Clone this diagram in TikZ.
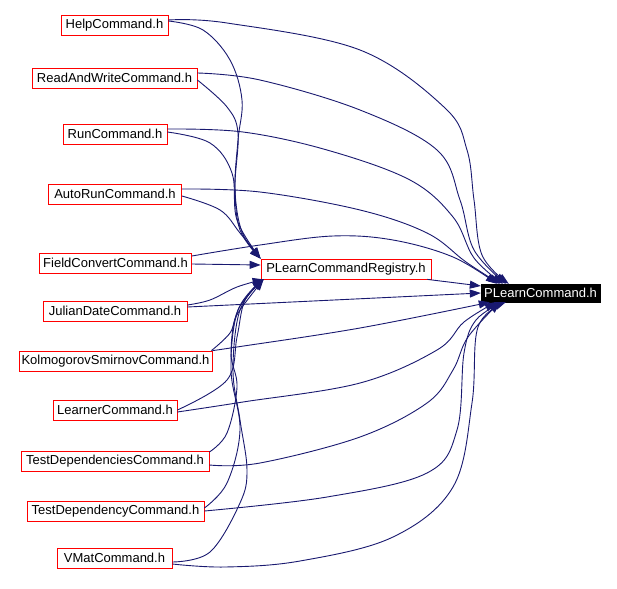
\documentclass[tikz,border=0pt]{standalone}
\usepackage{fontspec}
\setmainfont{Liberation Sans}
\usetikzlibrary{arrows.meta}
\definecolor{edgeblue}{RGB}{25,25,112}
\definecolor{boxred}{RGB}{255,0,0}
\begin{document}
\begin{tikzpicture}[x=1pt,y=-1pt,
  file/.style={draw=boxred,line width=0.8pt,fill=white,inner sep=0pt,minimum height=20pt,
    font=\fontsize{13}{14}\selectfont,anchor=center},
  mainfile/.style={draw=black,fill=black,text=white,inner sep=0pt,minimum height=18pt,
    font=\fontsize{13}{14}\selectfont,anchor=center},
  edge/.style={draw=edgeblue,line width=0.9pt,-{Triangle[length=11pt,width=8pt]}},
  curve/.style={smooth,tension=0.6}]
\useasboundingbox[fill=white] (0,0) rectangle (617,588);

\node[file,minimum width=107pt] (help) at (114.5,25) {HelpCommand.h};
\node[file,minimum width=165pt] (rw) at (114.5,78) {ReadAndWriteCommand.h};
\node[file,minimum width=104pt] (run) at (115,134) {RunCommand.h};
\node[file,minimum width=133pt] (auto) at (115,194) {AutoRunCommand.h};
\node[file,minimum width=152pt] (field) at (115.5,263) {FieldConvertCommand.h};
\node[file,minimum width=144pt] (julian) at (115,311) {JulianDateCommand.h};
\node[file,minimum width=193pt] (kolm) at (115.5,361) {KolmogorovSmirnovCommand.h};
\node[file,minimum width=124pt] (learner) at (115,410) {LearnerCommand.h};
\node[file,minimum width=188pt] (tdeps) at (115,461) {TestDependenciesCommand.h};
\node[file,minimum width=177pt] (tdep) at (115.5,511) {TestDependencyCommand.h};
\node[file,minimum width=115pt] (vmat) at (114.5,558) {VMatCommand.h};
\node[file,minimum width=170pt] (reg) at (346,269) {PLearnCommandRegistry.h};
\node[mainfile,minimum width=119pt] (plc) at (540.5,293) {PLearnCommand.h};

% upper group to PLearnCommand.h
\draw[edge] plot[curve] coordinates {([yshift=5pt]help.east) (227,23) (360,50) (445,108) (467,150) (474,200) (482,255) ([xshift=28pt]plc.north west)};
\draw[edge] plot[curve] coordinates {([yshift=5pt]rw.east) (260,80) (360,110) (437,150) (460,200) (474,250) ([xshift=25pt]plc.north west)};
\draw[edge] plot[curve] coordinates {([yshift=5pt]run.east) (243,132) (327,150) (410,180) (453,217) (474,258) ([xshift=22pt]plc.north west)};
\draw[edge] plot[curve] coordinates {([yshift=5pt]auto.east) (260,192) (360,210) (427,233) (466,262) ([xshift=19pt]plc.north west)};
\draw[edge] plot[curve] coordinates {([yshift=7pt]field.east) (260,245) (333,236) (393,240) (453,257) ([xshift=16pt]plc.north west)};

% upper group to registry
\draw[edge] plot[curve] coordinates {([yshift=4pt]help.east) (203,30) (230,60) (242,100) (238,140) (235,190) (242,232) (reg.north west)};
\draw[edge] plot[curve] coordinates {([yshift=-2pt]rw.east) (227,107) (238,133) (235,187) (240,230) (reg.north west)};
\draw[edge] plot[curve] coordinates {([yshift=2pt]run.east) (210,143) (232,173) (237,220) (reg.north west)};
\draw[edge] plot[curve] coordinates {([yshift=-2pt]auto.east) (220,210) (240,233) (reg.north west)};
\draw[edge] ([yshift=-1pt]field.east) -- ([yshift=4pt]reg.west);

% registry to PLearnCommand.h
\draw[edge] ([xshift=-4pt]reg.south east) -- ([yshift=7pt]plc.west);

% lower group to PLearnCommand.h
\draw[edge] ([yshift=4pt]julian.east) -- (plc.west);
\draw[edge] plot[curve] coordinates {(kolm.north east) (237,347) (360,328) ([xshift=9pt]plc.south west)};
\draw[edge] plot[curve] coordinates {([yshift=-2pt]learner.east) (243,402) (360,383) (437,350) (464,322) ([xshift=15pt]plc.south west)};
\draw[edge] plot[curve] coordinates {([yshift=-4pt]tdeps.east) (260,463) (360,437) (427,403) (453,370) (468,337) ([xshift=19pt]plc.south west)};
\draw[edge] plot[curve] coordinates {(tdep.east) (327,497) (427,473) (457,430) (464,353) (476,320) ([xshift=22pt]plc.south west)};
\draw[edge] plot[curve] coordinates {([yshift=-6pt]vmat.east) (225,567) (300,561) (393,537) (453,487) (472,403) (478,327) ([xshift=25pt]plc.south west)};

% lower group to registry
\draw[edge] plot[curve] coordinates {([yshift=6pt]julian.east) (210,300) (237,287) ([xshift=3pt]reg.south west)};
\draw[edge] plot[curve] coordinates {([xshift=-1pt]kolm.north east) (230,333) (238,313) ([xshift=3pt]reg.south west)};
\draw[edge] plot[curve] coordinates {(learner.east) (227,380) (237,337) (245,300) ([xshift=3pt]reg.south west)};
\draw[edge] plot[curve] coordinates {([yshift=9pt]tdeps.east) (227,433) (237,387) (231,353) (238,310) ([xshift=3pt]reg.south west)};
\draw[edge] plot[curve] coordinates {([yshift=3pt]tdep.east) (227,483) (240,430) (231,370) (238,310) ([xshift=3pt]reg.south west)};
\draw[edge] plot[curve] coordinates {([yshift=-4pt]vmat.east) (210,552) (240,503) (247,470) (240,420) (233,370) (240,310) ([xshift=3pt]reg.south west)};
\end{tikzpicture}
\end{document}
